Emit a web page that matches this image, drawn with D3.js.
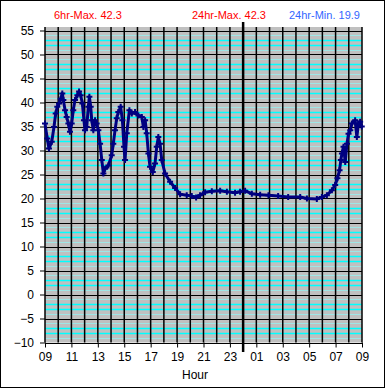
<!DOCTYPE html>
<html>
<head>
<meta charset="utf-8">
<script src="https://cdn.jsdelivr.net/npm/d3@7"></script>
<style>
  body { margin: 0; background: #fff; }
  svg { display: block; font-family: "Liberation Sans", Arial, sans-serif; }
</style>
</head>
<body>
<script>
// hours since 09:00 and temperature readings
const hours = [0, 0.17, 0.30, 0.51, 0.68, 0.81, 0.93, 1.06, 1.19, 1.31, 1.39, 1.52, 1.64, 1.77, 1.89,
  2.02, 2.14, 2.27, 2.45, 2.58, 2.70, 2.83, 2.95, 3.03, 3.16, 3.28, 3.36, 3.46, 3.54, 3.66, 3.79,
  3.91, 4.04, 4.17, 4.30, 4.42, 4.55, 4.80, 5.05, 5.17, 5.30, 5.43, 5.55, 5.73, 5.86, 5.98, 6.06,
  6.19, 6.39, 6.57, 6.82, 7.07, 7.33, 7.45, 7.58, 7.70, 7.83, 7.95, 8.16, 8.33, 8.46, 8.58, 8.71,
  8.84, 9.09, 9.47, 9.85, 10.23, 10.73, 11.11, 11.44, 11.74, 12.12, 12.63, 13.26, 13.77, 14.39,
  14.77, 15.15, 15.66, 16.29, 16.92, 17.65, 18.41, 19.32, 19.83, 20.58, 20.96, 21.34, 21.72,
  21.97, 22.14, 22.30, 22.40, 22.48, 22.60, 22.73, 22.86, 22.98, 23.11, 23.23, 23.48, 23.61,
  23.73, 23.86, 23.98];
const temps = [35.6, 32.5, 30.4, 31.8, 34.9, 37.7, 39.1, 39.8, 40.8, 41.9, 40.5, 38.4, 37.0, 35.6, 33.9,
  35.6, 38.4, 40.5, 41.5, 42.3, 41.5, 39.8, 36.3, 34.2, 34.9, 39.1, 41.2, 39.1, 36.3, 34.2, 36.3,
  35.6, 34.2, 31.4, 28.0, 25.2, 26.2, 26.9, 29.0, 31.4, 34.2, 36.7, 38.0, 39.1, 36.3, 30.8, 28.0,
  33.6, 38.4, 37.7, 38.0, 37.3, 37.0, 34.9, 36.3, 33.6, 29.4, 26.6, 25.5, 27.3, 30.8, 32.8, 31.4,
  28.0, 25.2, 23.5, 22.2, 20.9, 20.7, 20.5, 20.2, 20.7, 21.3, 21.5, 21.6, 21.4, 21.2,
  21.4, 21.6, 21.0, 20.8, 20.7, 20.5, 20.3, 20.3, 20.0, 19.9, 20.3, 20.7, 21.7,
  22.8, 24.2, 25.9, 28.0, 29.4, 30.8, 27.6, 31.4, 33.5, 34.2, 35.6, 36.3, 32.8,
  35.6, 36.0, 35.0];
const xTickLabels = ["09", "11", "13", "15", "17", "19", "21", "23", "01", "03", "05", "07", "09"];
const yTicks = [-10, -5, 0, 5, 10, 15, 20, 25, 30, 35, 40, 45, 50, 55];
const headers = [
  { text: "6hr-Max. 42.3", color: "#ff0000" },
  { text: "24hr-Max. 42.3", color: "#ff0000" },
  { text: "24hr-Min. 19.9", color: "#3366ff" }
];

const W = 385, H = 388;
const svg = d3.select("body").append("svg").attr("width", W).attr("height", H);

const x = d3.scaleLinear().domain([0, 24]).range([45, 362]);
const y = d3.scaleLinear().domain([-10, 55]).range([342.5, 30.5]);

// outer frame
svg.append("rect").attr("x", 0.5).attr("y", 0.5).attr("width", W - 1).attr("height", H - 1)
  .attr("fill", "#fff").attr("stroke", "#000");

// plot background
const plotTop = 27;
svg.append("rect").attr("x", x(0)).attr("y", plotTop)
  .attr("width", x(24) - x(0)).attr("height", y(-10) - plotTop)
  .attr("fill", "#c0c0c0");

// minor horizontal grid
const minor = d3.range(-10, 56).filter(v => v % 5 !== 0);
const band = d => ((d % 5) + 5) % 5;
svg.append("g").selectAll("line").data(minor).join("line")
  .attr("x1", x(0)).attr("x2", x(24))
  .attr("y1", d => Math.round(y(d)) + 0.5).attr("y2", d => Math.round(y(d)) + 0.5)
  .attr("stroke", d => (band(d) === 2 || band(d) === 3) ? "#00ffff" : "#9fe6e6")
  .attr("stroke-width", d => (band(d) === 2 || band(d) === 3) ? 1.5 : 1);

// major horizontal grid
svg.append("g").selectAll("line").data(yTicks).join("line")
  .attr("x1", x(0)).attr("x2", x(24))
  .attr("y1", d => Math.round(y(d)) + 0.5).attr("y2", d => Math.round(y(d)) + 0.5)
  .attr("stroke", "#000");

// vertical grid each hour
svg.append("g").selectAll("line").data(d3.range(0, 25)).join("line")
  .attr("x1", d => x(d)).attr("x2", d => x(d))
  .attr("y1", plotTop).attr("y2", y(-10))
  .attr("stroke", "#000").attr("stroke-width", 1.5);

// y axis
const yAxis = svg.append("g").attr("transform", `translate(${x(0)},0)`)
  .call(d3.axisLeft(y).tickValues(yTicks).tickSize(5).tickPadding(6));
yAxis.select(".domain").remove();
yAxis.selectAll("line").attr("stroke", "#000");
yAxis.selectAll("text").attr("font-size", 12).attr("fill", "#000")
  .attr("font-family", "Liberation Sans, Arial, sans-serif");

// x axis
const xAxis = svg.append("g").attr("transform", `translate(0,${y(-10)})`)
  .call(d3.axisBottom(x).tickValues(d3.range(0, 25, 2)).tickSize(5).tickPadding(5)
    .tickFormat((d, i) => xTickLabels[i]));
xAxis.select(".domain").remove();
xAxis.selectAll("line").attr("stroke", "#000");
xAxis.selectAll("text").attr("font-size", 12).attr("fill", "#000")
  .attr("font-family", "Liberation Sans, Arial, sans-serif");

svg.append("text").attr("x", 195).attr("y", 379).attr("text-anchor", "middle")
  .attr("font-size", 12).text("Hour");

// midnight marker
svg.append("line").attr("x1", x(15)).attr("x2", x(15)).attr("y1", 22).attr("y2", 352)
  .attr("stroke", "#000").attr("stroke-width", 2.5);

// headers
const hx = [54, 192, 289];
svg.append("g").selectAll("text").data(headers).join("text")
  .attr("x", (d, i) => hx[i]).attr("y", 19)
  .attr("font-size", 11).attr("fill", d => d.color).text(d => d.text);

// data
const pts = hours.map((h, i) => [h, temps[i]]);
svg.append("path").datum(pts)
  .attr("fill", "none").attr("stroke", "#000080").attr("stroke-width", 3)
  .attr("stroke-linejoin", "round")
  .attr("d", d3.line().x(d => x(d[0])).y(d => y(d[1])));

svg.append("g").selectAll("path").data(pts).join("path")
  .attr("transform", d => `translate(${x(d[0])},${y(d[1])})`)
  .attr("d", "M-3,0H3M0,-3V3")
  .attr("stroke", "#000080").attr("stroke-width", 2);
</script>
</body>
</html>
